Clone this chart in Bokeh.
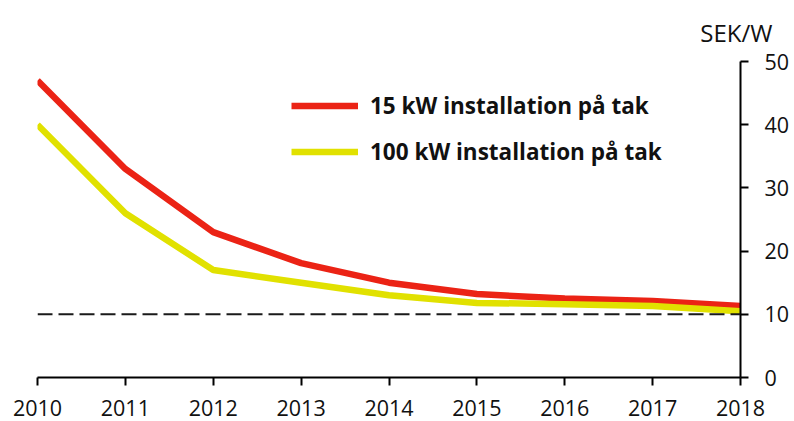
from bokeh.plotting import figure
from bokeh.models import Range1d, LinearAxis, Span, Title, Legend, LegendItem, FixedTicker
from bokeh.embed import file_html
from bokeh.resources import INLINE

years = [2010, 2011, 2012, 2013, 2014, 2015, 2016, 2017, 2018]
kw15 = [47.0, 33.0, 23.0, 18.1, 15.0, 13.2, 12.5, 12.1, 11.3]
kw100 = [40.0, 26.0, 17.0, 15.0, 13.0, 11.8, 11.6, 11.3, 10.5]
series_names = ["15 kW installation på tak", "100 kW installation på tak"]
y_ticks = [0, 10, 20, 30, 40, 50]
ref_level = 10
unit_label = "SEK/W"

FONT = "Open Sans"

p = figure(width=794, height=421, output_backend="svg", toolbar_location=None,
           x_range=Range1d(2010, 2018), y_range=Range1d(0, 50),
           y_axis_location=None, min_border_left=37, min_border_top=60,
           min_border_right=54, min_border_bottom=44)
p.outline_line_color = None
p.xgrid.visible = False
p.ygrid.visible = False
p.background_fill_color = "white"
p.border_fill_color = "white"

yax = LinearAxis(ticker=FixedTicker(ticks=y_ticks))
p.add_layout(yax, "right")

for ax in [p.xaxis[0], yax]:
    ax.axis_line_color = "black"
    ax.axis_line_width = 2
    ax.major_tick_line_color = "black"
    ax.major_tick_line_width = 2
    ax.major_tick_in = 0
    ax.major_tick_out = 8
    ax.minor_tick_line_color = None
    ax.major_label_text_font = FONT
    ax.major_label_text_font_size = "21.5px"
    ax.major_label_text_color = "#111111"

p.xaxis[0].ticker = FixedTicker(ticks=years)
p.xaxis[0].major_label_standoff = 14
yax.major_label_standoff = 16

span = Span(location=ref_level, dimension="width", line_color="#1a1a1a",
            line_width=2, line_dash="15 6")
p.add_layout(span)

r1 = p.line(years, kw15, line_color="#EB2315", line_width=6.5)
r2 = p.line(years, kw100, line_color="#E1E100", line_width=6.5)

legend = Legend(items=[LegendItem(label=series_names[0], renderers=[r1]),
                       LegendItem(label=series_names[1], renderers=[r2])],
                location=(254, 210), border_line_color=None,
                background_fill_alpha=0, glyph_width=67, glyph_height=31,
                label_height=31, spacing=15, label_standoff=12, padding=10,
                label_text_font=FONT, label_text_font_size="22.5px",
                label_text_font_style="bold", label_text_color="#111111")
p.add_layout(legend)

title = Title(text=unit_label, align="right", offset=-32, standoff=26,
              text_font=FONT, text_font_size="24px", text_font_style="normal",
              text_color="#111111")
p.add_layout(title, "above")

open("out.html", "w").write(file_html(p, INLINE))
